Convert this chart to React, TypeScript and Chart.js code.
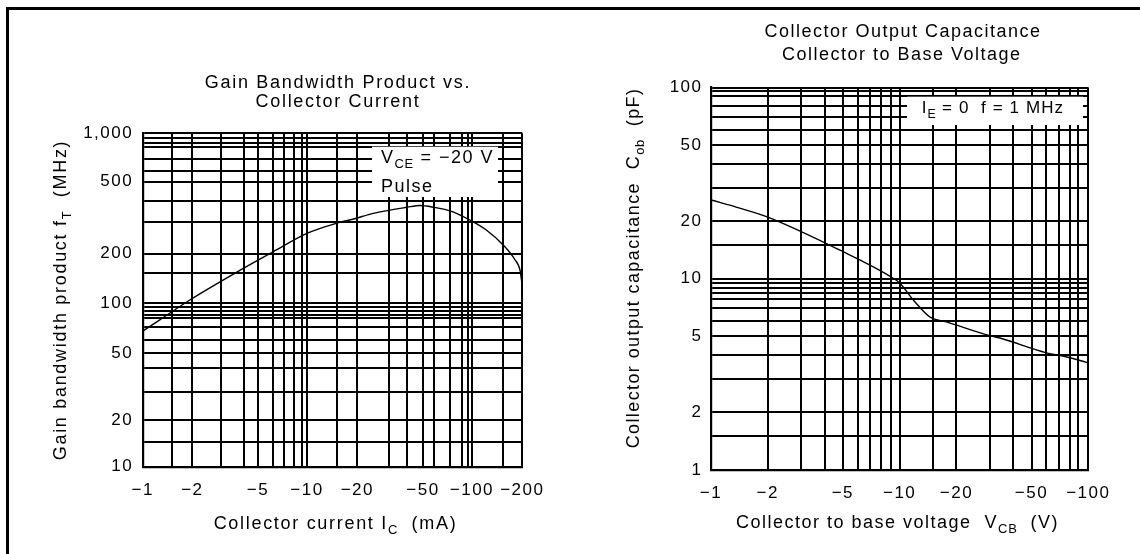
import React, { useEffect, useRef } from 'react';
import { Chart, registerables } from 'chart.js';

Chart.register(...registerables);

const FONT = '"Liberation Sans", Arial, Helvetica, sans-serif';

// ---------- Left chart: Gain bandwidth product vs collector current ----------
const leftCurrentMA = [1, 1.27, 1.93, 3.9, 6.2, 9.9, 15, 19, 25, 40, 48, 58, 76, 96, 121, 153, 180, 194, 200];
const leftGainMHz = [65, 76, 100, 151, 195, 251, 289, 306, 331, 360, 369, 360, 338, 302, 263, 214, 175, 150, 120];

const leftXGrid = [1, 1.5, 2, 3, 4.1, 5, 6.2, 7.2, 8.3, 9.2, 9.9, 15, 20, 31, 40, 50, 58, 73, 86, 94, 99, 153, 200];
const leftXTickValues = [1, 2, 5, 9.9, 20, 50, 99, 200];
const leftXTickLabels = ['−1', '−2', '−5', '−10', '−20', '−50', '−100', '−200'];

const leftYGrid = [10, 14, 19, 28, 39, 48, 57.5, 69, 78, 81, 86, 91, 96, 145, 190, 295, 390, 513, 597, 698, 824, 878, 933, 1000];
const leftYTickValues = [10, 19, 48, 96, 190, 513, 1000];
const leftYTickLabels = ['10', '20', '50', '100', '200', '500', '1,000'];

// ---------- Right chart: Collector output capacitance vs collector-base voltage ----------
const rightVoltageV = [1, 1.42, 2, 4.83, 8.9, 10, 12, 14.5, 17.7, 27.8, 34, 60, 77, 98, 100];
const rightCapPF = [25.8, 23.4, 21, 14.1, 10.3, 9.5, 7.6, 6.3, 5.95, 5.15, 4.9, 4.1, 3.9, 3.65, 3.62];

const rightXGrid = [1, 2, 3, 4, 5, 6, 7, 8, 9, 10, 15, 20, 30, 40, 50, 60, 70, 80, 88, 100];
const rightXTickValues = [1, 2, 5, 10, 20, 50, 100];
const rightXTickLabels = ['−1', '−2', '−5', '−10', '−20', '−50', '−100'];

const rightYGrid = [1, 1.5, 2, 3, 4, 5, 6, 7, 7.8, 8.4, 9, 9.5, 10, 15, 20, 30, 40, 50, 60, 70, 80, 90, 96, 100];
const rightYTickValues = [1, 2, 5, 10, 20, 50, 100];
const rightYTickLabels = ['1', '2', '5', '10', '20', '50', '100'];

type Seg = { t: string; sub?: boolean };
type TextItem = { segs: Seg[]; x: number; y: number; size: number; ls: number; align: 'center' | 'left'; rotate?: boolean };
type Decor = { texts: TextItem[]; box: { x: number; y: number; w: number; h: number } };

function drawRich(ctx: CanvasRenderingContext2D, item: TextItem) {
  const { segs, x, y, size, ls, align, rotate } = item;
  ctx.save();
  ctx.translate(x, y);
  if (rotate) ctx.rotate(-Math.PI / 2);
  ctx.fillStyle = '#000';
  ctx.textBaseline = 'alphabetic';
  ctx.textAlign = 'left';
  const subSize = size * 0.72;
  const setFont = (s: Seg) => {
    ctx.font = `${s.sub ? subSize : size}px ${FONT}`;
    (ctx as any).letterSpacing = (s.sub ? ls * 0.5 : ls) + 'px';
  };
  const widths = segs.map((s) => {
    setFont(s);
    return ctx.measureText(s.t).width;
  });
  const total = widths.reduce((a, b) => a + b, 0);
  let cx = align === 'center' ? -total / 2 : 0;
  segs.forEach((s, i) => {
    setFont(s);
    ctx.fillText(s.t, cx, s.sub ? size * 0.28 : 0);
    cx += widths[i];
  });
  ctx.restore();
}

function makeDecor(d: Decor) {
  return {
    id: 'decor',
    beforeDraw(chart: any) {
      (chart.ctx as any).letterSpacing = '1.5px';
    },
    beforeDatasetsDraw(chart: any) {
      const ctx = chart.ctx as CanvasRenderingContext2D;
      ctx.save();
      ctx.fillStyle = '#fff';
      ctx.fillRect(d.box.x, d.box.y, d.box.w, d.box.h);
      ctx.restore();
    },
    afterDraw(chart: any) {
      const ctx = chart.ctx as CanvasRenderingContext2D;
      d.texts.forEach((t) => drawRich(ctx, t));
    },
  };
}

function logAxis(
  min: number,
  max: number,
  grid: number[],
  tickVals: number[],
  tickLabels: string[],
  fitSize: number,
  isX: boolean,
  pad: number
) {
  return {
    type: 'logarithmic',
    min,
    max,
    afterBuildTicks: (s: any) => {
      s.ticks = grid.map((v) => ({ value: v }));
    },
    afterFit: (s: any) => {
      if (isX) s.height = fitSize;
      else s.width = fitSize;
    },
    ticks: {
      autoSkip: false,
      maxRotation: 0,
      minRotation: 0,
      padding: pad,
      color: '#000',
      font: { family: FONT, size: 17, lineHeight: 1.2 },
      callback: (v: any) => {
        const i = tickVals.findIndex((t) => Math.abs(t - Number(v)) < 1e-6);
        return i >= 0 ? tickLabels[i] : '';
      },
    },
    grid: { color: '#000', lineWidth: 2, drawTicks: false },
    border: { display: true, color: '#000', width: 2.2 },
  };
}

function leftConfig(): any {
  return {
    type: 'line',
    data: {
      datasets: [
        {
          data: leftCurrentMA.map((x, i) => ({ x, y: leftGainMHz[i] })),
          borderColor: '#000',
          borderWidth: 1.4,
          pointRadius: 0,
          cubicInterpolationMode: 'monotone',
          fill: false,
        },
      ],
    },
    options: {
      animation: false,
      responsive: false,
      events: [],
      layout: { padding: { left: 0, top: 133.3, right: 47.7, bottom: 0 } },
      plugins: { legend: { display: false }, tooltip: { enabled: false } },
      scales: {
        x: logAxis(1, 200, leftXGrid, leftXTickValues, leftXTickLabels, 87.3, true, 13),
        y: logAxis(10, 1000, leftYGrid, leftYTickValues, leftYTickLabels, 142.7, false, 9.5),
      },
    },
    plugins: [
      makeDecor({
        box: { x: 372, y: 146.7, w: 126, h: 50.3 },
        texts: [
          { segs: [{ t: 'Gain Bandwidth Product vs.' }], x: 338, y: 88.3, size: 18, ls: 1.7, align: 'center' },
          { segs: [{ t: 'Collector Current' }], x: 338, y: 106.7, size: 18, ls: 1.7, align: 'center' },
          {
            segs: [{ t: 'Collector current I' }, { t: 'C', sub: true }, { t: '  (mA)' }],
            x: 335.5, y: 529, size: 18, ls: 1.7, align: 'center',
          },
          {
            segs: [{ t: 'Gain bandwidth product f' }, { t: 'T', sub: true }, { t: '  (MHz)' }],
            x: 65.5, y: 300, size: 18, ls: 1.7, align: 'center', rotate: true,
          },
          { segs: [{ t: 'V' }, { t: 'CE', sub: true }, { t: ' = −20 V' }], x: 381, y: 163, size: 18, ls: 1.5, align: 'left' },
          { segs: [{ t: 'Pulse' }], x: 381, y: 191.7, size: 18, ls: 1.5, align: 'left' },
        ],
      }),
    ],
  };
}

function rightConfig(): any {
  return {
    type: 'line',
    data: {
      datasets: [
        {
          data: rightVoltageV.map((x, i) => ({ x, y: rightCapPF[i] })),
          borderColor: '#000',
          borderWidth: 1.4,
          pointRadius: 0,
          cubicInterpolationMode: 'monotone',
          fill: false,
        },
      ],
    },
    options: {
      animation: false,
      responsive: false,
      events: [],
      layout: { padding: { left: 0, top: 87.5, right: 51.7, bottom: 0 } },
      plugins: { legend: { display: false }, tooltip: { enabled: false } },
      scales: {
        x: logAxis(1, 100, rightXGrid, rightXTickValues, rightXTickLabels, 84, true, 12.8),
        y: logAxis(1, 100, rightYGrid, rightYTickValues, rightYTickLabels, 141, false, 8.5),
      },
    },
    plugins: [
      makeDecor({
        box: { x: 337, y: 96.7, w: 176, h: 28.3 },
        texts: [
          { segs: [{ t: 'Collector Output Capacitance' }], x: 333, y: 36.7, size: 18, ls: 1.5, align: 'center' },
          { segs: [{ t: 'Collector to Base Voltage' }], x: 331.7, y: 59.7, size: 18, ls: 1.5, align: 'center' },
          {
            segs: [{ t: 'Collector to base voltage  V' }, { t: 'CB', sub: true }, { t: '  (V)' }],
            x: 327.5, y: 528, size: 18, ls: 1.5, align: 'center',
          },
          {
            segs: [{ t: 'Collector output capacitance  C' }, { t: 'ob', sub: true }, { t: '  (pF)' }],
            x: 69, y: 268, size: 18, ls: 1.4, align: 'center', rotate: true,
          },
          { segs: [{ t: 'I' }, { t: 'E', sub: true }, { t: ' = 0  f = 1 MHz' }], x: 351.7, y: 113.3, size: 17, ls: 1.1, align: 'left' },
        ],
      }),
    ],
  };
}

function ChartCanvas({ make, left }: { make: () => any; left: number }) {
  const ref = useRef<HTMLCanvasElement>(null);
  useEffect(() => {
    const chart = new Chart(ref.current as HTMLCanvasElement, make());
    return () => chart.destroy();
  }, []);
  return (
    <canvas
      ref={ref}
      width={570}
      height={554}
      style={{ position: 'absolute', left, top: 0, width: 570, height: 554, display: 'block' }}
    />
  );
}

export default function App() {
  return (
    <div
      style={{
        position: 'fixed',
        left: 0,
        top: 0,
        width: 1140,
        height: 554,
        background: '#fff',
        overflow: 'hidden',
      }}
    >
      <div
        style={{
          position: 'absolute',
          left: 6,
          top: 7,
          width: 1140,
          height: 560,
          borderTop: '3px solid #000',
          borderLeft: '3px solid #000',
          boxSizing: 'border-box',
        }}
      />
      <ChartCanvas make={leftConfig} left={0} />
      <ChartCanvas make={rightConfig} left={570} />
    </div>
  );
}
